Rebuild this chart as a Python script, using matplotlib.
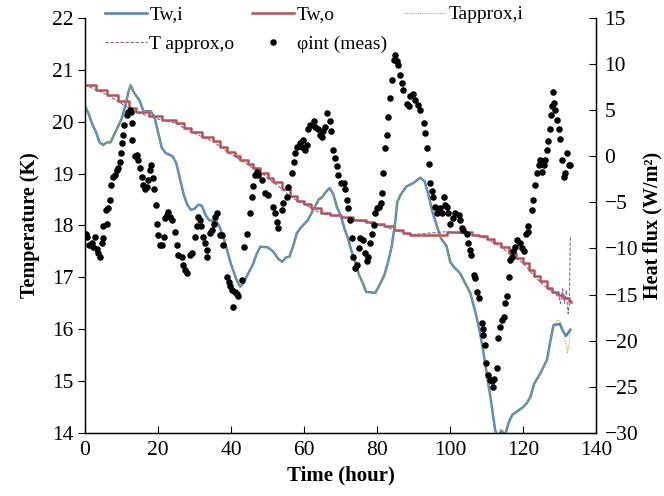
import matplotlib
matplotlib.use("Agg")
import matplotlib.pyplot as plt
import numpy as np

# Wall temperature, inner surface (Tw,i)
tw_i_hours = [0, 1, 2, 3, 4, 5, 6, 7, 8, 9, 10, 11, 12, 12.5, 13.5, 15, 16, 18, 19, 20,
              21, 22, 24, 25, 26, 27, 28, 29, 30, 31, 32, 33, 34, 36, 37, 38, 39, 40, 41.5, 42.5,
              43.5, 44.5, 46, 47, 48, 50, 51.5, 53, 54, 55, 56, 57, 58, 59, 61, 62.5, 64, 65, 66, 67,
              68, 69, 70, 71, 72, 73, 74, 75, 76, 77, 79.5, 81, 82, 83, 84, 85, 85.5, 86.5, 88, 90,
              91.8, 93, 94, 95, 96.3, 97.5, 99, 100, 101, 102.7, 104, 105.5, 107, 108.2, 109, 110, 111, 112.3, 113, 114,
              115, 116, 117, 119, 120, 121, 122, 123, 124.7, 126.5, 127.5, 128.3, 130, 131, 131.7, 132.9]
tw_i = [20.30, 20.15, 19.95, 19.80, 19.60, 19.55, 19.60, 19.60, 19.75, 19.90, 20.05, 20.30, 20.60, 20.70, 20.55, 20.40, 20.20, 20.20, 20.10, 19.80,
        19.50, 19.40, 19.33, 19.20, 18.90, 18.60, 18.40, 18.30, 18.32, 18.40, 18.38, 18.20, 18.10, 18.08, 17.95, 17.75, 17.50, 17.25, 16.95, 16.82,
        16.90, 17.05, 17.25, 17.45, 17.59, 17.58, 17.50, 17.35, 17.30, 17.38, 17.40, 17.60, 17.85, 17.95, 18.10, 18.30, 18.50, 18.55, 18.65, 18.72,
        18.60, 18.35, 18.20, 17.95, 17.75, 17.50, 17.30, 17.05, 16.90, 16.72, 16.70, 16.90, 17.05, 17.30, 17.60, 18.10, 18.45, 18.60, 18.75, 18.82,
        18.92, 18.85, 18.60, 18.30, 18.00, 17.75, 17.60, 17.30, 17.20, 17.08, 16.90, 16.70, 16.30, 15.92, 15.60, 15.15, 14.70, 14.06, 13.90, 14.05,
        13.95, 14.20, 14.35, 14.45, 14.50, 14.58, 14.70, 14.95, 15.15, 15.41, 15.80, 16.08, 16.10, 15.95, 15.87, 15.99]

# Wall temperature, outer surface (Tw,o) - stepped signal
tw_o_hours = [0, 3, 6, 9, 12, 14, 17.5, 21, 25, 27, 29, 32, 35, 37, 39, 41, 42.5, 44.5, 46, 48,
              50, 51.5, 54, 56, 58, 60, 62, 64.5, 67, 70, 73.5, 77, 79, 82, 84.5, 87, 89, 99, 106, 108,
              110, 112, 114, 116, 118, 120, 121.5, 123, 124.5, 126.5, 128, 129.5, 131, 132.5, 133]
tw_o = [20.71, 20.61, 20.52, 20.39, 20.26, 20.19, 20.10, 20.03, 19.97, 19.88, 19.81, 19.71, 19.62, 19.52, 19.42, 19.33, 19.26, 19.18, 19.10, 19.02,
        18.92, 18.83, 18.70, 18.57, 18.48, 18.41, 18.33, 18.24, 18.20, 18.17, 18.11, 18.06, 18.03, 17.98, 17.92, 17.86, 17.82, 17.88, 17.82, 17.79,
        17.74, 17.66, 17.58, 17.47, 17.38, 17.27, 17.15, 17.02, 16.92, 16.79, 16.72, 16.66, 16.60, 16.55, 16.53]

# approximations deviate from the measured wall temperatures only at the very end
approx_i_tail_hours = [129.5, 130.5, 131.5, 132.1, 132.5, 132.9]
approx_i_tail = [16.18, 16.10, 15.80, 15.55, 15.70, 16.00]
approx_o_tail_hours = [129.0, 129.5, 130.2, 130.8, 131.3, 131.8, 132.3, 132.6, 132.9]
approx_o_tail = [16.65, 16.72, 16.50, 16.78, 16.50, 16.75, 16.30, 16.45, 17.80]

# Measured internal heat flux (W/m2)
flux_hours = [0.3, 0.6, 1.2, 1.8, 2.3, 2.7, 3.2, 3.6, 4.1, 4.6, 4.8, 5.0, 5.8, 5.9, 6.4, 6.8, 7.0, 7.8, 8.2, 8.7,
              9.1, 9.6, 9.8, 10.0, 10.5, 10.8, 11.4, 11.9, 12.2, 12.5, 12.8, 13.0, 13.7, 14.3, 14.6, 15.1, 15.5, 16.0, 16.4, 16.9,
              17.3, 17.8, 18.0, 18.7, 18.9, 19.5, 19.6, 20.1, 20.5, 21.0, 21.5, 21.9, 22.4, 22.8, 23.3, 23.7, 24.7, 25.1, 25.6, 26.5,
              26.9, 27.4, 27.9, 28.8, 29.2, 30.1, 30.6, 31.0, 31.5, 31.7, 32.4, 32.9, 33.3, 33.5, 34.2, 34.7, 35.2, 35.6, 36.1, 37.0,
              37.4, 37.9, 38.8, 39.3, 39.7, 40.2, 40.6, 41.1, 41.6, 42.0, 43.0, 43.5, 44.3, 45.2, 45.7, 46.1, 46.6, 47.0, 47.5, 48.4,
              49.3, 50.2, 51.6, 52.1, 52.5, 52.8, 53.9, 54.3, 55.3, 55.7, 56.6, 57.1, 57.5, 58.0, 58.9, 59.4, 59.8, 60.3, 60.7, 61.2,
              61.6, 62.6, 63.0, 63.9, 64.4, 64.8, 65.3, 65.8, 66.2, 67.1, 67.4, 68.0, 68.5, 69.0, 69.4, 70.1, 70.8, 71.2, 71.7, 72.1,
              72.6, 73.0, 73.5, 74.0, 74.4, 74.9, 75.3, 76.2, 76.6, 77.2, 77.6, 78.1, 78.5, 79.0, 79.5, 79.9, 80.4, 81.1, 81.3, 81.7,
              82.2, 82.6, 83.1, 83.6, 84.0, 84.5, 84.9, 85.4, 85.8, 86.3, 86.8, 87.2, 88.1, 88.6, 89.0, 89.9, 90.4, 91.3, 91.8, 92.7,
              93.2, 93.6, 94.1, 94.5, 95.0, 95.4, 95.9, 96.3, 97.3, 97.7, 98.2, 98.6, 99.1, 99.5, 100.0, 100.9, 101.4, 102.3, 102.7, 103.1,
              103.6, 104.6, 105.0, 105.5, 105.7, 106.4, 106.8, 107.3, 108.0, 108.7, 108.9, 109.1, 109.6, 109.9, 110.3, 110.8, 111.4, 111.7, 112.1, 112.8,
              113.2, 113.7, 114.2, 114.8, 115.1, 115.5, 116.0, 116.4, 116.9, 117.3, 117.8, 118.3, 119.2, 119.6, 120.1, 120.8, 121.2, 121.4, 122.4, 122.8,
              123.3, 123.8, 124.2, 124.7, 125.1, 125.6, 126.0, 126.5, 126.9, 127.2, 127.6, 127.9, 128.1, 128.3, 128.8, 129.2, 129.7, 130.1, 130.6, 131.1,
              131.5, 132.0, 132.4, 132.9]
flux = [-8.4, -8.8, -9.6, -9.4, -9.8, -8.7, -10.1, -10.5, -10.9, -9.4, -8.9, -7.6, -5.8, -7.3, -5.6, -4.7, -3.1, -2.2, -2.0, -1.5,
        -1.3, -0.6, 0.3, 1.4, 2.3, 3.4, 4.5, 4.8, 5.0, 4.8, 3.6, 1.8, 0.0, 0.1, -0.4, -1.3, -2.2, -3.1, -3.5, -3.3,
        -2.6, -1.5, -0.9, -2.4, -3.5, -5.3, -7.3, -8.5, -9.6, -9.6, -8.7, -6.7, -6.4, -6.0, -6.6, -6.9, -8.2, -9.6, -10.7, -10.9,
        -11.8, -12.3, -12.7, -10.7, -10.5, -8.7, -7.6, -6.6, -6.9, -7.6, -8.7, -9.4, -10.2, -10.9, -8.3, -8.0, -7.3, -6.6, -6.2, -8.5,
        -8.5, -9.6, -13.1, -13.6, -14.1, -14.5, -16.3, -14.7, -14.9, -15.2, -13.4, -9.8, -8.4, -6.1, -4.4, -3.2, -2.0, -1.7, -2.0, -2.6,
        -4.0, -4.2, -5.5, -6.2, -7.1, -7.8, -5.8, -5.1, -4.4, -3.3, -1.8, -0.6, 0.3, 1.0, 1.4, 1.0, 1.8, 0.7, 1.2, 2.9,
        3.4, 3.8, 3.2, 3.0, 2.3, 2.1, 2.7, 3.2, 4.7, 3.8, 2.7, 0.7, -0.2, -1.1, -2.0, -2.9, -2.9, -3.5, -4.7, -5.6,
        -6.9, -8.9, -10.9, -12.1, -11.8, -10.0, -8.9, -9.1, -10.5, -11.4, -10.9, -9.4, -8.4, -7.5, -6.2, -5.6, -5.5, -5.1, -4.0, -1.8,
        0.9, 2.3, 4.3, 6.3, 8.3, 10.4, 11.0, 10.3, 9.9, 8.8, 7.9, 7.2, 5.7, 5.4, 6.5, 6.8, 6.1, 5.6, 5.0, 3.6,
        2.5, 0.9, -0.8, -2.9, -3.8, -4.4, -5.5, -6.2, -5.6, -6.2, -4.4, -5.3, -5.5, -6.2, -7.3, -6.7, -6.2, -6.4, -6.9, -7.8,
        -8.0, -8.4, -9.4, -10.2, -10.7, -12.9, -13.2, -14.7, -15.4, -18.1, -18.7, -19.4, -20.5, -22.4, -23.7, -24.3, -24.4, -25.0, -24.1, -23.0,
        -19.7, -18.5, -17.8, -17.4, -15.9, -15.2, -13.1, -11.2, -10.9, -10.3, -9.8, -9.1, -9.4, -10.0, -10.3, -8.4, -7.6, -8.2, -5.8, -4.7,
        -3.1, -1.8, -0.9, -0.4, -1.7, -0.9, -0.4, 0.7, 1.6, 2.9, 4.5, 5.4, 7.0, 5.8, 5.0, 3.9, 3.0, 1.9, -0.4, -2.2,
        -1.8, 0.3, -0.9, -0.9]

# Excel-like palette
BLUE = "#4F81BD"
RED = "#C0504D"
GREEN = "#9BBB59"
PURPLE = "#8064A2"

plt.rcParams['font.family'] = ['Liberation Serif', 'DejaVu Serif']
plt.rcParams['font.size'] = 15.5


def build_approx(hours, values, tail_hours, tail_values):
    """Measured series up to the start of the tail, then the approximation's own points"""
    hours = np.array(hours)
    values = np.array(values)
    keep = hours < tail_hours[0]
    return (np.concatenate([hours[keep], tail_hours]),
            np.concatenate([values[keep], tail_values]))


fig = plt.figure(figsize=(6.64, 4.96), dpi=100)
ax1 = fig.add_axes([0.128, 0.127, 0.770, 0.837])
ax2 = ax1.twinx()

approx_i_h, approx_i = build_approx(tw_i_hours, tw_i, approx_i_tail_hours, approx_i_tail)
approx_o_h, approx_o = build_approx(tw_o_hours, tw_o, approx_o_tail_hours, approx_o_tail)

l_twi, = ax1.plot(tw_i_hours, tw_i, color=BLUE, lw=1.8, label="Tw,i")
l_two, = ax1.plot(tw_o_hours, tw_o, color=RED, lw=1.8, drawstyle='steps-post', label="Tw,o")
l_api, = ax1.plot(approx_i_h, approx_i, color=GREEN, lw=0.8, ls=(0, (1, 1)), label="Tapprox,i")
l_apo, = ax1.plot(approx_o_h, approx_o, color=PURPLE, lw=0.8, ls=(0, (3, 1.5)), label="T approx,o")
l_flux, = ax2.plot(flux_hours, flux, ls='none', marker='o', ms=3.7, color='black', label="φint (meas)")

ax1.set_xlim(0, 140)
ax1.set_ylim(14, 22)
ax2.set_ylim(-30, 15)
ax1.set_xticks(np.arange(0, 141, 20))
ax1.set_yticks(np.arange(14, 23, 1))
ax2.set_yticks(np.arange(-30, 16, 5))

ax1.spines['top'].set_visible(False)
ax2.spines['top'].set_visible(False)
for sp in ['left', 'bottom']:
    ax1.spines[sp].set_linewidth(1.0)
ax2.spines['right'].set_linewidth(1.0)

ax1.tick_params(axis='x', direction='in', length=5, pad=6)
ax1.tick_params(axis='y', direction='out', length=5)
ax2.tick_params(axis='y', direction='in', length=5, pad=6)

ax1.set_xlabel("Time (hour)", fontweight='bold', fontsize=15, labelpad=4)
ax1.set_ylabel("Temperature (K)", fontweight='bold', fontsize=14.5, labelpad=8)
ax2.set_ylabel("Heat flux (W/m²)", fontweight='bold', fontsize=14.5, labelpad=3)

# legend in three columns, filled column by column
handles = [l_twi, l_apo, l_two, l_flux, l_api]
fig.legend(handles=handles, labels=[h.get_label() for h in handles],
           loc='upper left', bbox_to_anchor=(95 / 664, 1.008), ncol=3,
           frameon=False, borderpad=0.0, handlelength=2.15, handletextpad=0.15,
           columnspacing=0.9, labelspacing=0.6, fontsize=14)

fig.savefig("out.png", dpi=100)
